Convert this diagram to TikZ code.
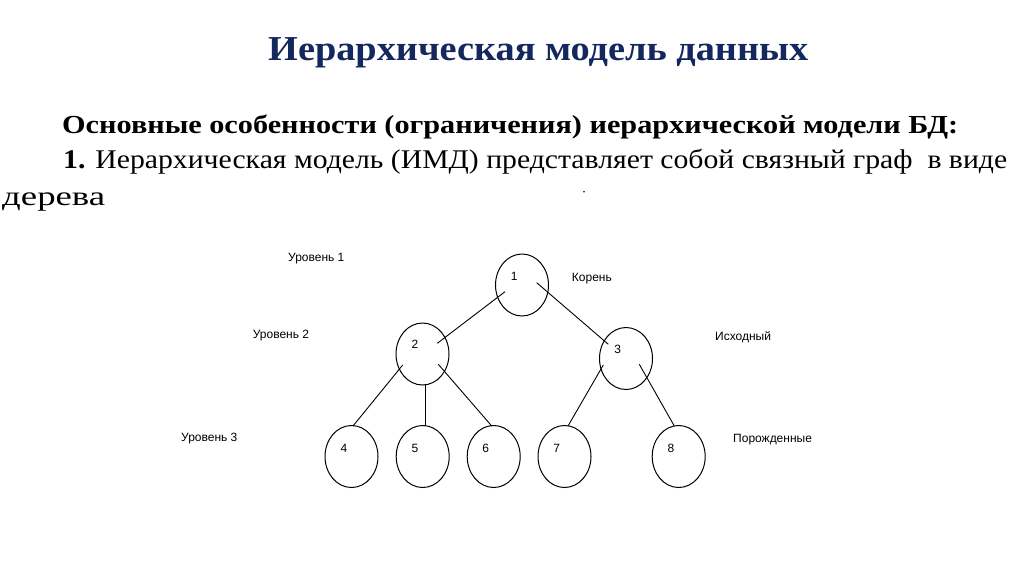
\documentclass[tikz,border=0pt]{standalone}
\usepackage{fontspec}
\setmainfont{Liberation Serif}
\newfontfamily\arialf{Liberation Sans}
\usepackage{graphicx}
\usetikzlibrary{shapes.geometric,calc}
\definecolor{titleblue}{RGB}{20,40,95}
\newsavebox\fitbox
\newcommand\fitw[2]{\sbox\fitbox{#2}\scalebox{\fpeval{(#1)/(\the\wd\fitbox)}}[1]{\usebox\fitbox}}
\tikzset{
  ell/.style={draw=black, line width=1pt, ellipse, minimum width=53pt, minimum height=62pt, inner sep=0pt},
  num/.style={anchor=base, inner sep=0pt, font=\arialf\fontsize{12}{14}\selectfont},
  lbl/.style={anchor=base west, inner sep=0pt, font=\arialf\fontsize{12}{14}\selectfont},
  edge/.style={draw=black, line width=0.9pt},
  txt/.style={anchor=base west, inner sep=0pt}
}
\begin{document}
\begin{tikzpicture}[x=1pt,y=-1pt]
\useasboundingbox (0,0) rectangle (1024,574);
\fill[white] (0,0) rectangle (1024,574);
% title and text
\node[txt, text=titleblue] (title) at (268,60) {\fitw{540}{\fontsize{35}{40}\selectfont\bfseries Иерархическая модель данных}};
\node[txt] (line1) at (62,133) {\fitw{896}{\fontsize{26}{30}\selectfont\bfseries Основные особенности (ограничения) иерархической модели БД:}};
\node[txt] (line2) at (63,168) {\fitw{944}{\fontsize{27}{30}\selectfont\textbf{1.} Иерархическая модель (ИМД) представляет собой связный граф\ \ в виде}};
\node[txt] (line3) at (2,205) {\fitw{103}{\fontsize{27}{30}\selectfont дерева}};
\fill (584,191.7) circle (0.9);
% nodes
\node[ell] (n1) at (522,285) {};
\node[ell] (n2) at (422.5,354) {};
\node[ell] (n3) at (626,358.5) {};
\node[ell] (n4) at (351.5,456.5) {};
\node[ell] (n5) at (422.7,456.5) {};
\node[ell] (n6) at (493.7,456.5) {};
\node[ell] (n7) at (564.5,456.5) {};
\node[ell] (n8) at (678.7,456.5) {};
\node[num] (t1) at (514.3,280) {1};
\node[num] (t2) at (415,348.5) {2};
\node[num] (t3) at (617.7,353.5) {3};
\node[num] (t4) at (344,452) {4};
\node[num] (t5) at (415,452) {5};
\node[num] (t6) at (485.7,452) {6};
\node[num] (t7) at (556.7,452) {7};
\node[num] (t8) at (671,452) {8};
% edges
\draw[edge] ($(n1.center)+(-17,6.7)$) -- ($(n2.center)+(14.8,-10.7)$);
\draw[edge] ($(n1.center)+(14.7,-2.3)$) -- ($(n3.center)+(-17.7,-14.2)$);
\draw[edge] ($(n2.center)+(-19.8,11)$) -- ($(n4.center)+(1.5,-30.5)$);
\draw[edge] ($(n2.center)+(2.5,31)$) -- ($(n5.center)+(2.3,-30.5)$);
\draw[edge] ($(n2.center)+(15.8,10.3)$) -- ($(n6.center)+(-2,-30.5)$);
\draw[edge] ($(n3.center)+(-22.7,6.5)$) -- ($(n7.center)+(3.5,-30.5)$);
\draw[edge] ($(n3.center)+(13.3,5.8)$) -- ($(n8.center)+(-4.4,-30.5)$);
% labels
\node[lbl] (lv1) at (288,261) {Уровень 1};
\node[lbl] (lv2) at (252.7,338) {Уровень 2};
\node[lbl] (lv3) at (181,441) {Уровень 3};
\node[lbl] (root) at (571.7,281) {Корень};
\node[lbl] (src) at (715,340) {Исходный};
\node[lbl] (gen) at (733,442) {Порожденные};
\end{tikzpicture}
\end{document}
